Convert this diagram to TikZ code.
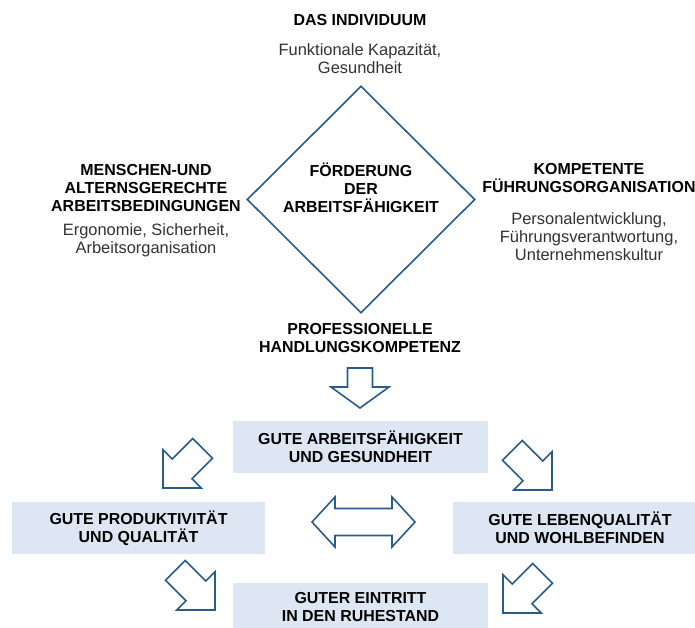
\documentclass[tikz,border=0pt]{standalone}
\usepackage{fontspec}
\setmainfont{Liberation Sans}
\usetikzlibrary{shapes.geometric}
\definecolor{linecol}{RGB}{40,92,142}
\definecolor{boxcol}{RGB}{220,231,243}
\definecolor{subcol}{RGB}{50,50,50}
\tikzset{
  head/.style={font=\bfseries\fontsize{16}{18}\selectfont, align=center, inner sep=0pt},
  sub/.style={font=\fontsize{16.5}{18}\selectfont, align=center, text=subcol, inner sep=0pt},
  resultbox/.style={head, fill=boxcol, minimum width=255bp, minimum height=52bp},
  blockarr/.style={draw=linecol, line width=1.6bp, line join=miter, fill=white},
  diagarrow/.pic={\draw[blockarr] (0,0) -- (-27,27) -- (-27,14) -- (-56,14) -- (-56,-14) -- (-27,-14) -- (-27,-27) -- cycle;},
  downarrow/.pic={\draw[blockarr] (0,0) -- (-21,29) -- (-21,12.5) -- (-40,12.5) -- (-40,-12.5) -- (-21,-12.5) -- (-21,-29) -- cycle;},
  botharrow/.pic={\draw[blockarr] (-51.5,0) -- (-28.5,25) -- (-28.5,13.5) -- (28.5,13.5) -- (28.5,25) -- (51.5,0) -- (28.5,-25) -- (28.5,-13.5) -- (-28.5,-13.5) -- (-28.5,-25) -- cycle;},
}
\begin{document}
\begin{tikzpicture}[x=1bp,y=-1bp]
  \useasboundingbox (0,0) rectangle (695,628);
  \clip (0,0) rectangle (695,628);
%%
  % Node: dia
  \node[diamond, draw=linecol, line width=1.6bp, minimum width=228bp, minimum height=227bp, inner sep=0pt] (dia) at (361,199.5) {};
  \node[head] (foerderung) at ([yshift=12bp]dia.center) {FÖRDERUNG\\DER\\ARBEITSFÄHIGKEIT};
  % Node: indiv
  \node[head] (indiv) at (360,20) {DAS INDIVIDUUM};
  \node[sub] (indivsub) at (360,59) {Funktionale Kapazität,\\Gesundheit};
  % Node: bedingungen
  \node[head] (bedingungen) at (146,188) {MENSCHEN-UND\\ALTERNSGERECHTE\\ARBEITSBEDINGUNGEN};
  \node[sub] (bedingsub) at (146,240) {Ergonomie, Sicherheit,\\Arbeitsorganisation};
  % Node: fuehrung
  \node[head] (fuehrung) at (589,178) {KOMPETENTE\\FÜHRUNGSORGANISATION};
  \node[sub] (fuehrsub) at (589,237) {Personalentwicklung,\\Führungsverantwortung,\\Unternehmenskultur};
  % Node: kompetenz
  \node[head] (kompetenz) at (360,338) {PROFESSIONELLE\\HANDLUNGSKOMPETENZ};
  % Node: results
  \node[resultbox] (arbfaeh) at (360.5,446.5) {GUTE ARBEITSFÄHIGKEIT\\UND GESUNDHEIT};
  \node[resultbox, minimum width=253bp] (produkt) at (138.5,528) {GUTE PRODUKTIVITÄT\\UND QUALITÄT};
  \node[resultbox, minimum width=254bp] (lebenq) at (580,528) {GUTE LEBENQUALITÄT\\UND WOHLBEFINDEN};
  \node[resultbox, minimum height=48bp] (ruhestand) at (360.5,607) {GUTER EINTRITT\\IN DEN RUHESTAND};
%%
  % Edge: kompetenz -> arbfaeh
  \pic[rotate=270] at (360,408) {downarrow};
  % Edge: arbfaeh -> produkt, arbfaeh -> lebenq
  \pic[rotate=225] at (163,488) {diagarrow};
  \pic[rotate=315] at (552,490) {diagarrow};
  % Edge: produkt <-> lebenq
  \pic at (363.5,522) {botharrow};
  % Edge: produkt -> ruhestand, lebenq -> ruhestand
  \pic[rotate=315] at (215,610) {diagarrow};
  \pic[rotate=225] at (503,613) {diagarrow};
%
\end{tikzpicture}
\end{document}
